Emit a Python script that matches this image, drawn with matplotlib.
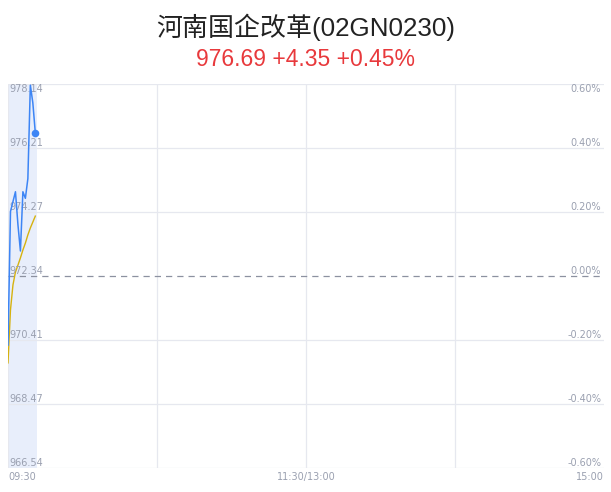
import matplotlib
matplotlib.use("Agg")
import matplotlib.pyplot as plt
import numpy as np

plt.rcParams['font.family'] = ['Liberation Sans', 'Noto Sans CJK SC', 'DejaVu Sans']

title = "河南国企改革(02GN0230)"
subtitle = "976.69 +4.35 +0.45%"
prev_close = 972.34
minutes = [0, 1, 2, 3, 4, 5, 6, 7, 8, 9, 10, 11]
price = [970.24, 974.30, 974.60, 974.90, 973.90, 973.10, 974.90, 974.70, 975.30, 978.14, 977.60, 976.69]
avg_price = [969.70, 971.31, 972.07, 972.46, 972.67, 972.89, 973.13, 973.34, 973.59, 973.80, 973.98, 974.16]
left_labels = ["966.54", "968.47", "970.41", "972.34", "974.27", "976.21", "978.14"]
right_labels = ["-0.60%", "-0.40%", "-0.20%", "0.00%", "0.20%", "0.40%", "0.60%"]
x_labels = ["09:30", "11:30/13:00", "15:00"]
total_minutes = 240

fig = plt.figure(figsize=(6.11, 4.92), dpi=100)
ax = fig.add_axes([8/611, 24/492, 596/611, 384/492])

ymin = prev_close * (1 - 0.006)
ymax = prev_close * (1 + 0.006)
ax.set_xlim(0, total_minutes)
ax.set_ylim(ymin, ymax)

grid_c = "#e6e8ef"
levels = np.linspace(ymin, ymax, 7)
for i, lv in enumerate(levels):
    if i == 3:
        ax.axhline(lv, color="#8c91a0", lw=0.9, ls=(0, (5, 4)), zorder=2)
    else:
        ax.axhline(lv, color=grid_c, lw=0.9, zorder=1)
for xv in [60, 120, 180]:
    ax.axvline(xv, color=grid_c, lw=0.9, zorder=1)

for s in ax.spines.values():
    s.set_visible(False)
ax.axvline(0, color=grid_c, lw=0.9, zorder=1)
ax.set_xticks([])
ax.set_yticks([])

# shaded region of elapsed time
ax.axvspan(0, minutes[-1] + 0.5, color="#e8eefb", zorder=0, lw=0)

ax.plot(minutes, avg_price, color="#d6b20f", lw=1.0, zorder=3)
ax.plot(minutes, price, color="#3d85f5", lw=1.1, zorder=4)
ax.scatter([minutes[-1]], [price[-1]], s=30, color="#3d85f5", zorder=5, lw=0)

lab_c = "#9aa0b0"
fs = 7
for i, lv in enumerate(levels):
    if i == 6:
        va, off = "top", 0
    else:
        va, off = "baseline", 1.2
    ax.annotate(left_labels[i], (0, lv), xytext=(1, off), textcoords="offset points",
                ha="left", va=va, fontsize=fs, color=lab_c, family="DejaVu Sans")
    ax.annotate(right_labels[i], (total_minutes, lv), xytext=(-2, off), textcoords="offset points",
                ha="right", va=va, fontsize=fs, color=lab_c, family="DejaVu Sans")

xpos = [0, 120, 240]
has = ["left", "center", "right"]
for xp, lab, ha in zip(xpos, x_labels, has):
    ax.annotate(lab, (xp, ymin), xytext=(0, -3), textcoords="offset points",
                ha=ha, va="top", fontsize=fs, color=lab_c, family="DejaVu Sans")

fig.text(0.5, 1 - 27/492, title, ha="center", va="center", fontsize=18.7, color="#222222")
fig.text(0.5, 1 - 60/492, subtitle, ha="center", va="center", fontsize=16.5, color="#e8393c")

fig.savefig("out.png", dpi=100)
